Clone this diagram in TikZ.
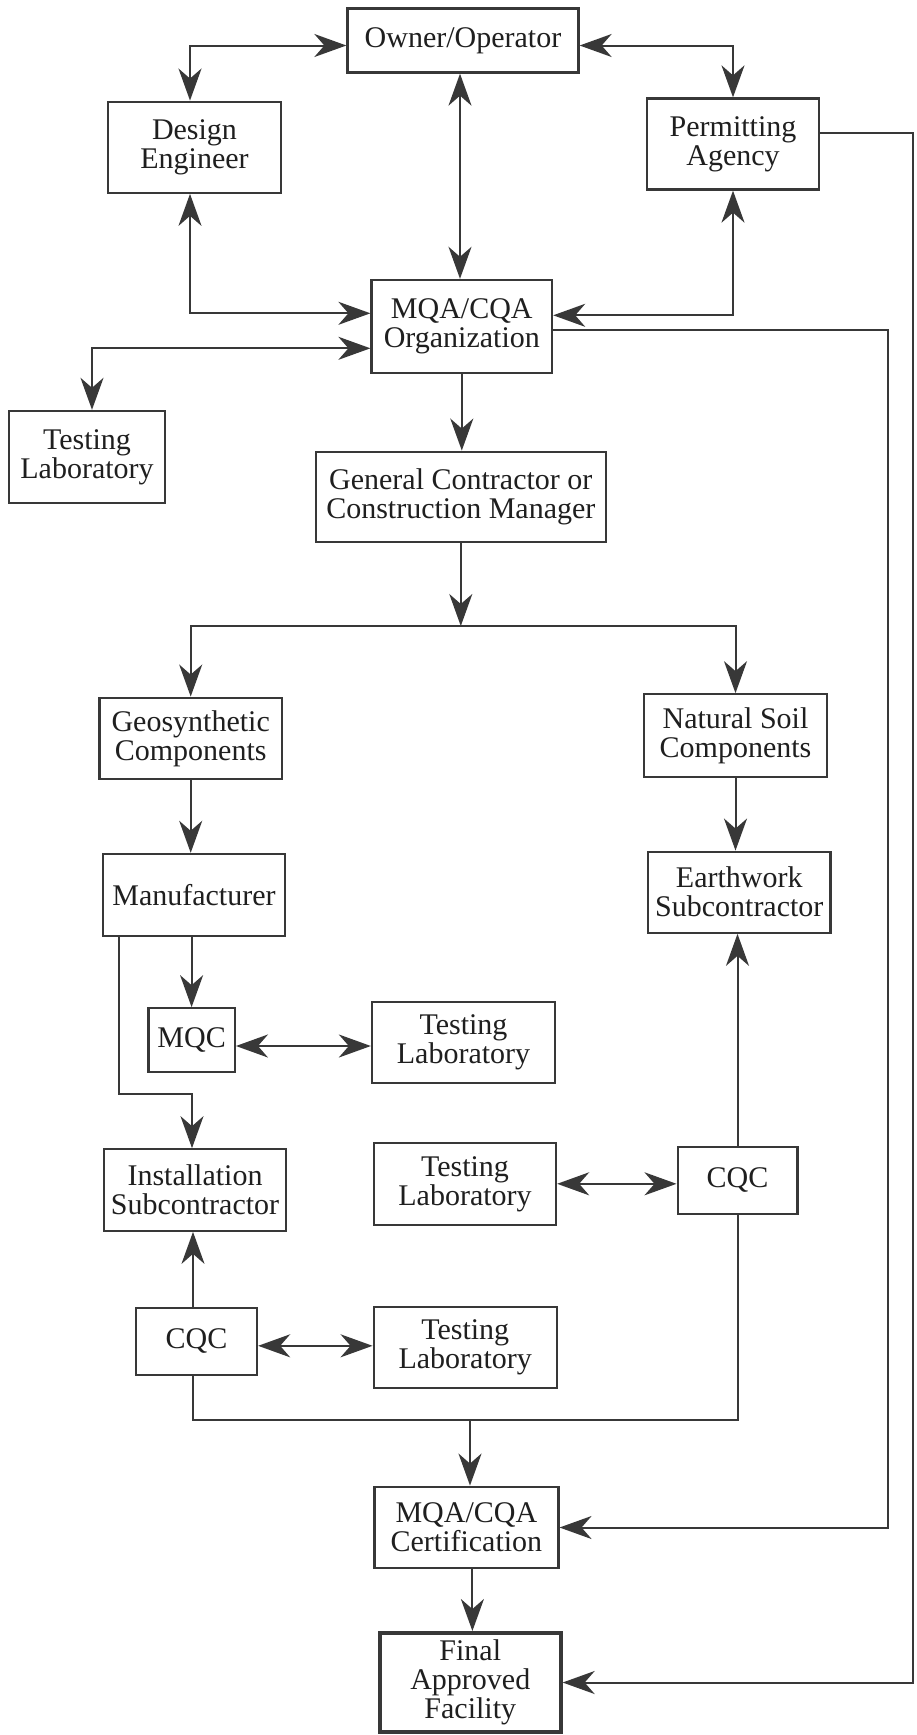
\documentclass[tikz,border=0pt]{standalone}
\usepackage{fontspec}
\setmainfont{Liberation Serif}
\usetikzlibrary{arrows.meta}
\begin{document}
\begin{tikzpicture}[x=1pt,y=-1pt,
  >={Stealth[length=32pt,width=23pt,inset=10pt]},
  box/.style={draw=black!78, line width=2.3pt, inner sep=0pt, align=center, text=black!88, font=\fontsize{30}{29}\selectfont},
  conn/.style={draw=black!78, line width=2pt},
  arr/.style={conn, ->},
  dbl/.style={conn, <->},
]
\useasboundingbox (0,0) rectangle (916,1735);
\fill[white] (0,0) rectangle (916,1735);

\node[box, minimum width=231pt, minimum height=64pt] (owner) at (463,40.5) {Owner/Operator};
\node[box, minimum width=173pt, minimum height=91pt] (design) at (194.5,147.2) {Design\\Engineer};
\node[box, minimum width=172pt, minimum height=91pt] (permit) at (733,144) {Permitting\\Agency};
\node[box, minimum width=180.5pt, minimum height=92.7pt] (mqaorg) at (461.8,326.3) {MQA/CQA\\Organization};
\node[box, minimum width=156.5pt, minimum height=91.7pt] (testlab1) at (87,456.8) {Testing\\Laboratory};
\node[box, minimum width=290pt, minimum height=90pt] (gc) at (460.8,496.7) {General Contractor or\\Construction Manager};
\node[box, minimum width=182.7pt, minimum height=81.6pt] (geo) at (190.7,738.5) {Geosynthetic\\Components};
\node[box, minimum width=183pt, minimum height=82.4pt] (soil) at (735.5,735.5) {Natural Soil\\Components};
\node[box, minimum width=182pt, minimum height=81.7pt] (manuf) at (194,894.8) {Manufacturer};
\node[box, minimum width=182.6pt, minimum height=81pt] (earth) at (739.3,892.2) {Earthwork\\Subcontractor};
\node[box, minimum width=86.4pt, minimum height=63.4pt] (mqc) at (191.6,1040) {MQC};
\node[box, minimum width=183pt, minimum height=81.6pt] (testlab2) at (463.5,1042.5) {Testing\\Laboratory};
\node[box, minimum width=182pt, minimum height=81.4pt] (install) at (195,1190) {Installation\\Subcontractor};
\node[box, minimum width=182pt, minimum height=82.3pt] (testlab3) at (465,1183.8) {Testing\\Laboratory};
\node[box, minimum width=119.7pt, minimum height=67.3pt] (cqcr) at (737.5,1180.3) {CQC};
\node[box, minimum width=121pt, minimum height=67.3pt] (cqcl) at (196.5,1341.3) {CQC};
\node[box, minimum width=183pt, minimum height=81.6pt] (testlab4) at (465.2,1347.5) {Testing\\Laboratory};
\node[box, minimum width=184pt, minimum height=81.6pt] (cert) at (466.4,1527.5) {MQA/CQA\\Certification};
\node[box, line width=4pt, minimum width=180.7pt, minimum height=99pt] (final) at (470.3,1682.5) {Final\\Approved\\Facility};

\coordinate (rx) at (913,0);
\coordinate (mx) at (888,0);
\coordinate (j1) at (460.8,626);
\coordinate (m1) at (118.6,1094.3);
\coordinate (j2) at (470,1420);

% top cluster
\draw[dbl] ([yshift=-5pt]owner.west) -| ([xshift=-4.5pt]design.north);
\draw[dbl] ([yshift=-5pt]owner.east) -| (permit.north);
\draw[dbl] ([xshift=-3pt]owner.south) -- ([xshift=-3pt]owner.south |- mqaorg.north);
\draw[dbl] ([xshift=-4.5pt]design.south) |- ([yshift=13pt]mqaorg.west);
\draw[dbl] (permit.south) |- ([yshift=11pt]mqaorg.east);
\draw[dbl] ([yshift=-22pt]mqaorg.west) -| ([xshift=5pt]testlab1.north);
\draw[arr] ([yshift=11pt]permit.east) -| (rx |- final.east) -- (final.east);
\draw[arr] ([yshift=-4pt]mqaorg.east) -| (mx |- cert.east) -- (cert.east);

% middle
\draw[arr] (mqaorg.south) -- (mqaorg.south |- gc.north);
\draw[arr] (gc.south) -- (j1);
\draw[arr] (j1) -| (geo.north);
\draw[arr] (j1) -| (soil.north);
\draw[arr] (geo.south) -- (geo.south |- manuf.north);
\draw[arr] (soil.south) -- (soil.south |- earth.north);
\draw[arr] (mqc.north |- manuf.south) -- (mqc.north);
\draw[dbl] ([yshift=-6pt]mqc.east) -- ([yshift=-6pt]mqc.east -| testlab2.west);
\draw[arr] (m1 |- manuf.south) -- (m1) -| ([xshift=-3pt]install.north);
\draw[dbl] (testlab3.east) -- (testlab3.east -| cqcr.west);
\draw[arr] (cqcr.north) -- (cqcr.north |- earth.south);
\draw[arr] ([xshift=-3.5pt]cqcl.north) -- ([xshift=-3.5pt]cqcl.north |- install.south);
\draw[dbl] ([yshift=-4.5pt]cqcl.east) -- ([yshift=-4.5pt]cqcl.east -| testlab4.west);

% bottom
\draw[conn] ([xshift=-3.5pt]cqcl.south) |- (j2) -| (cqcr.south);
\draw[arr] (j2) -- (j2 |- cert.north);
\draw[arr] ([xshift=6pt]cert.south) -- ([xshift=6pt]cert.south |- final.north);
\end{tikzpicture}
\end{document}
